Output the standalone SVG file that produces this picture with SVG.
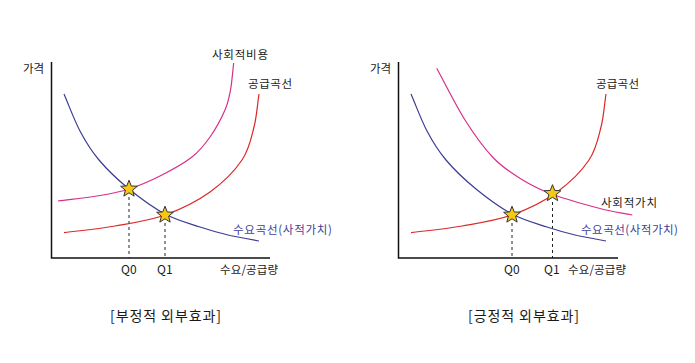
<svg xmlns="http://www.w3.org/2000/svg" xmlns:xlink="http://www.w3.org/1999/xlink" width="695" height="363" viewBox="0 0 695 363">
<style>
text{font-family:"Noto Sans CJK KR","Noto Sans",sans-serif;font-size:11.5px;fill:#1a1a1a}
.cap{font-size:14px}
.q{font-size:12px}
.blue-t{fill:#3f3f9c}
.axis{stroke:#111;stroke-width:1.5;fill:none}
.c{fill:none;stroke-width:1.2}
.blue{stroke:#3c3c94}
.mag{stroke:#d8308a}
.red{stroke:#dc2828}
.dash{stroke:#222;stroke-width:1;stroke-dasharray:3,3;fill:none}
.star{fill:#f5c812;stroke:#333;stroke-width:1}
</style>
<defs>
<polygon id="star" class="star" points="0,-8.8 2.24,-3.08 8.37,-2.72 3.62,1.18 5.17,7.12 0,3.81 -5.17,7.12 -3.62,1.18 -8.37,-2.72 -2.24,-3.08"/>
</defs>
<rect width="695" height="363" fill="#fff"/>

<g id="left-axes">
<path class="axis" d="M51.5,62 V258 H270"/>
<text x="23" y="73">가격</text>
<text x="220" y="274" textLength="58">수요/공급량</text>
</g>

<g id="connectors">
<path class="dash" d="M129,197 V258 M165,223 V258 M512,223 V258 M552.5,202 V258"/>
<path id="left-demand" class="c blue" d="M64,94 C69.3,106.3 74.2,120 80,131 C85.8,142 90.8,150.3 99,160 C107.2,169.7 118,180 129,189 C140,198 153.2,207.7 165,214 C176.8,220.3 189.2,223.4 200,227 C210.8,230.6 220.2,233.2 230,235.5 C239.7,237.3 249.3,239.2 259,241"/>
<path id="left-social-cost" class="c mag" d="M58,201 C72,199.2 88.2,197.5 100,195.5 C111.8,193.5 119,192.25 129,189 C139,185.75 149.5,181.3 160,176 C170.5,170.7 183.7,163.5 192,157 C200.3,150.5 204.5,144.8 210,137 C215.5,129.2 221.6,117.8 225,110 C228.4,102.2 229.05,97.8 230.5,90 C231.95,82.2 232.6,72 233.7,63"/>
<path id="left-supply" class="c red" d="M64,232.7 C81,230.5 98.2,228.95 115,226 C131.8,223.05 149.2,220.7 165,215 C180.8,209.3 197.2,201.2 210,192 C222.8,182.8 234.7,170.8 242,160 C249.3,149.2 251.2,138 254,127 C256.8,116 257.3,105 259,94"/>
<path id="right-demand" class="c blue" transform="translate(347,0)" d="M64,94 C69.3,106.3 74.2,120 80,131 C85.8,142 90.8,150.3 99,160 C107.2,169.7 118,180 129,189 C140,198 153.2,207.7 165,214 C176.8,220.3 189.2,223.4 200,227 C210.8,230.6 220.2,233.2 230,235.5 C239.7,237.3 249.3,239.2 259,241"/>
<path id="right-social-value" class="c mag" d="M436.7,68.3 C446.1,85.5 455.6,105.1 465,120 C474.4,134.9 483.7,147.7 493,157.5 C502.3,167.3 511.1,172.9 521,179 C530.9,185.1 539.1,189.4 552.3,194.3 C565.5,199.2 586.7,205.05 600,208.5 C613.3,212 621.5,212.8 632.3,215"/>
<path id="right-supply" class="c red" transform="translate(347,0)" d="M64,232.7 C81,230.5 98.2,228.95 115,226 C131.8,223.05 149.2,220.7 165,215 C180.8,209.3 197.2,201.2 210,192 C222.8,182.8 234.7,170.8 242,160 C249.3,149.2 251.2,138 254,127 C256.8,116 257.3,105 259,94"/>
</g>

<g id="left-labels">
<text x="212" y="59" textLength="56">사회적비용</text>
<text x="248" y="88" textLength="44">공급곡선</text>
<text x="233" y="234" class="blue-t" textLength="99">수요곡선(사적가치)</text>
</g>

<g id="left-points">
<use xlink:href="#star" x="129" y="189"/>
<use xlink:href="#star" x="165" y="215"/>
<text class="q" x="121" y="274">Q0</text>
<text class="q" x="157" y="274">Q1</text>
</g>

<g id="right-axes">
<path class="axis" d="M398.5,62 V258 H618"/>
<text x="370" y="73">가격</text>
<text x="568" y="274" textLength="58">수요/공급량</text>
</g>

<g id="right-labels">
<text x="596" y="88" textLength="43">공급곡선</text>
<text x="601" y="207" textLength="56">사회적가치</text>
<text x="581" y="234" class="blue-t" textLength="97">수요곡선(사적가치)</text>
</g>

<g id="right-points">
<use xlink:href="#star" x="512" y="215"/>
<use xlink:href="#star" x="552.5" y="193.5"/>
<text class="q" x="504" y="274">Q0</text>
<text class="q" x="544" y="274">Q1</text>
</g>

<g id="captions">
<text class="cap" x="110" y="321" textLength="111">[부정적 외부효과]</text>
<text class="cap" x="468" y="321" textLength="111">[긍정적 외부효과]</text>
</g>
</svg>
